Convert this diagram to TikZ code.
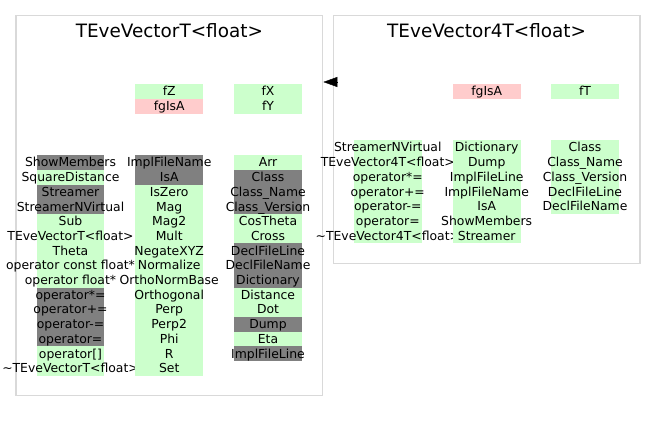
\documentclass[tikz,border=0pt]{standalone}
\usepackage{fontspec}
\setmainfont{DejaVu Sans}
\usetikzlibrary{arrows.meta}

\definecolor{cg}{HTML}{CCFFCC}
\definecolor{cr}{HTML}{FFCCCC}
\definecolor{cd}{HTML}{808080}
\definecolor{frame}{HTML}{D9D9D9}

% one column of members: name, x, top y, list of label/colour
\newcommand\membercol[4]{%
  \foreach \nm/\col [count=\i] in {#4} {\node[cell=c\col] (#1-\i) at (#2,{#3+(\i-1)*\rowh}) {};}
  \foreach \nm/\col [count=\i] in {#4} {\node[lbl] (#1-\i-l) at ([yshift=3.2pt]#1-\i.south) {\nm};}
}

\begin{document}
\begin{tikzpicture}[x=1pt, y=-1pt,
  classbox/.style={draw=frame, line width=1.3pt, inner sep=0pt},
  ttl/.style={anchor=base, inner sep=0pt, font=\fontsize{18.4}{22}\selectfont},
  cell/.style={minimum width=67.8pt, minimum height=14.7pt, inner sep=0pt, anchor=north, fill=#1},
  lbl/.style={anchor=base, inner sep=0pt, font=\fontsize{12.4}{14.7}\selectfont},
  inh/.style={-{Triangle[length=14pt, width=10pt]}}
]
\def\rowh{14.7}
\useasboundingbox (0,0) rectangle (656,423);

\node[classbox, minimum width=306.7pt, minimum height=379.8pt] (vecT) at (169.35,205.6) {};
\node[classbox, minimum width=306.7pt, minimum height=247.6pt] (vec4T) at (486.65,139.5) {};

\node[ttl] (vecT-t) at (vecT.north |- 0,37) {TEveVectorT<float>};
\node[ttl] (vec4T-t) at (vec4T.north |- 0,37) {TEveVector4T<float>};

% TEveVectorT<float>
\membercol{vT-a2}{169.2}{84}{fZ/g, fgIsA/r}
\membercol{vT-a3}{268}{84}{fX/g, fY/g}
\membercol{vT-m1}{70.5}{155}{ShowMembers/d, SquareDistance/g, Streamer/d, StreamerNVirtual/d, Sub/g,
  TEveVectorT<float>/g, Theta/g, operator const float*/g, operator float*/g, operator*=/d,
  operator+=/d, operator-=/d, operator=/d, operator[]/g, \textasciitilde TEveVectorT<float>/g}
\membercol{vT-m2}{169.2}{155}{ImplFileName/d, IsA/d, IsZero/g, Mag/g, Mag2/g, Mult/g, NegateXYZ/g,
  Normalize/g, OrthoNormBase/g, Orthogonal/g, Perp/g, Perp2/g, Phi/g, R/g, Set/g}
\membercol{vT-m3}{268}{155}{Arr/g, Class/d, Class\_Name/d, Class\_Version/d, CosTheta/g, Cross/g,
  DeclFileLine/d, DeclFileName/d, Dictionary/d, Distance/g, Dot/g, Dump/d, Eta/g, ImplFileLine/d}

% TEveVector4T<float>
\membercol{v4T-a2}{486.7}{84}{fgIsA/r}
\membercol{v4T-a3}{585}{84}{fT/g}
\membercol{v4T-m1}{387.8}{140}{StreamerNVirtual/g, TEveVector4T<float>/g, operator*=/g, operator+=/g,
  operator-=/g, operator=/g, \textasciitilde TEveVector4T<float>/g}
\membercol{v4T-m2}{486.7}{140}{Dictionary/g, Dump/g, ImplFileLine/g, ImplFileName/g, IsA/g,
  ShowMembers/g, Streamer/g}
\membercol{v4T-m3}{585}{140}{Class/g, Class\_Name/g, Class\_Version/g, DeclFileLine/g, DeclFileName/g}

% inheritance
\coordinate (inh) at (336.7,82);
\draw[inh] (inh) -- (vecT.east |- inh);

\end{tikzpicture}
\end{document}
